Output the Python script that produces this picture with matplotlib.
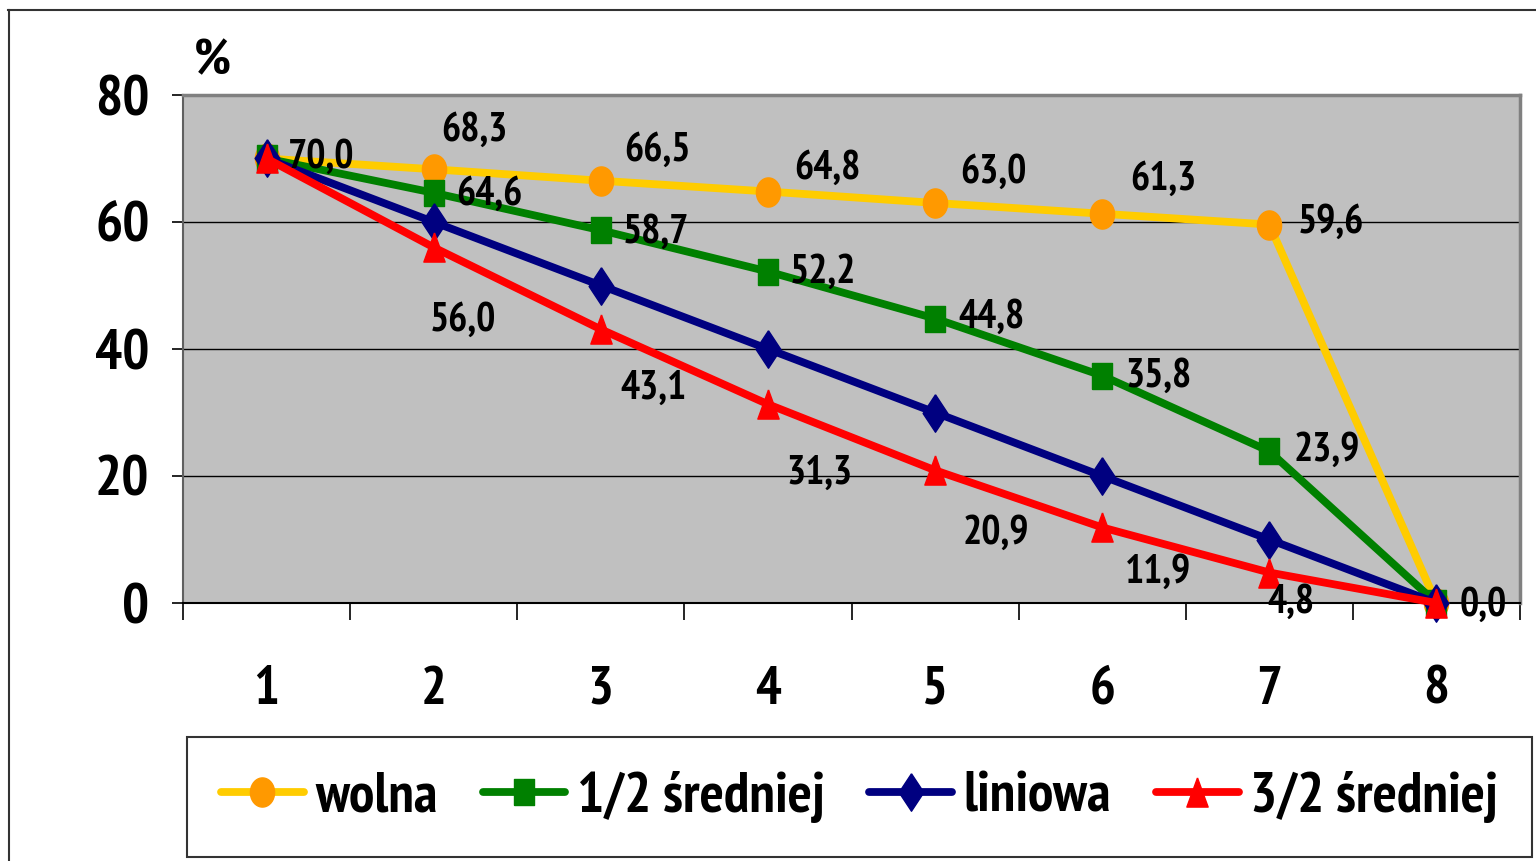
import matplotlib
matplotlib.use("Agg")
import matplotlib.pyplot as plt
from matplotlib.lines import Line2D
from matplotlib import font_manager
import numpy as np

# ---- data ----
categories = [1, 2, 3, 4, 5, 6, 7, 8]
series_names = ["wolna", "1/2 średniej", "liniowa", "3/2 średniej"]
wolna = [70.0, 68.3, 66.5, 64.8, 63.0, 61.3, 59.6, 0.0]
pol_sredniej = [70.0, 64.6, 58.7, 52.2, 44.8, 35.8, 23.9, 0.0]
liniowa = [70.0, 60.0, 50.0, 40.0, 30.0, 20.0, 10.0, 0.0]
trzy_pol_sredniej = [70.0, 56.0, 43.1, 31.3, 20.9, 11.9, 4.8, 0.0]
y_ticks = [0, 20, 40, 60, 80]

# which points carry value labels (by series)
labels_wolna = [True] * 8
labels_pol = [False, True, True, True, True, True, True, False]
labels_lin = [False] * 8
labels_trzy = [False, True, True, True, True, True, True, False]

# label offsets in pixels (dx, dy downward positive)
off_wolna = [(55, -1), (41, -39), (57, -30), (60, -23), (58, -31), (61, -34), (62, -2), (47, 2)]
off_pol = [(0, 0), (56, 2), (55, 2), (55, 1), (56, -1), (56, 1), (57, -1), (0, 0)]
off_lin = [(0, 0)] * 8
off_trzy = [(0, 0), (29, 73), (53, 59), (52, 69), (61, 63), (56, 45), (22, 30), (0, 0)]

bold_fams = {f.name for f in font_manager.fontManager.ttflist
             if (f.weight if isinstance(f.weight, int) else 700 if "bold" in str(f.weight) else 400) >= 700}
PREF = ["Arial Narrow", "Liberation Sans Narrow", "Archivo Narrow", "PT Sans Narrow",
        "Roboto Condensed", "Fira Sans Condensed", "Asap Condensed", "Sofia Sans Condensed",
        "Barlow Condensed", "IBM Plex Sans Condensed", "Encode Sans Condensed",
        "Liberation Sans", "DejaVu Sans"]
FAM = [f for f in PREF if f in bold_fams][:1] + ["DejaVu Sans"]
plt.rcParams["font.family"] = FAM
plt.rcParams["font.weight"] = "bold"

W, H = 1536, 861
fig = plt.figure(figsize=(W / 100, H / 100), dpi=100)
fig.patch.set_facecolor("white")

ax = fig.add_axes([183 / W, (H - 603) / H, (1520 - 183) / W, (603 - 95) / H])
ax.set_facecolor("#C0C0C0")

# stretched markers (the original chart is horizontally squeezed)
t = np.linspace(0, 2 * np.pi, 40)
ellipse = list(zip(np.cos(t) * 0.83, np.sin(t)))
narrow_sq = [(-0.75, -1), (0.75, -1), (0.75, 1), (-0.75, 1), (-0.75, -1)]
narrow_tri = [(0, 1.0), (-0.73, -1.0), (0.73, -1.0), (0, 1.0)]
narrow_dia = [(0, 1.0), (-0.66, 0), (0, -1.0), (0.66, 0), (0, 1.0)]

styles = [
    dict(color="#FFCC00", marker=ellipse, mfc="#FF9900", mec="#FF9900", ms=21),
    dict(color="#008000", marker=narrow_sq, mfc="#008000", mec="#008000", ms=19),
    dict(color="#000080", marker=narrow_dia, mfc="#000080", mec="#000080", ms=27),
    dict(color="#FF0000", marker=narrow_tri, mfc="#FF0000", mec="#FF0000", ms=21),
]
all_series = [wolna, pol_sredniej, liniowa, trzy_pol_sredniej]
all_labels = [labels_wolna, labels_pol, labels_lin, labels_trzy]
all_offs = [off_wolna, off_pol, off_lin, off_trzy]

for name, vals, st in zip(series_names, all_series, styles):
    ax.plot(categories, vals, lw=5.6, label=name, solid_capstyle="round",
            solid_joinstyle="round", clip_on=False, zorder=3, **st)

for vals, flags, offs in zip(all_series, all_labels, all_offs):
    for x, v, f, (dx, dy) in zip(categories, vals, flags, offs):
        if f:
            ax.annotate(f"{v:.1f}".replace(".", ","), xy=(x, v),
                        xytext=(dx * 0.72, -dy * 0.72), textcoords="offset points",
                        ha="center", va="center", fontsize=29, fontweight="bold",
                        color="black", zorder=5, annotation_clip=False)

ax.set_xlim(0.5, 8.5)
ax.set_ylim(0, 80)
ax.set_yticks(y_ticks)
ax.set_yticklabels([str(v) for v in y_ticks])
ax.set_xticks(categories)
ax.set_xticklabels([str(c) for c in categories])
ax.set_xticks(np.arange(0.5, 9.0, 1.0), minor=True)

ax.tick_params(axis="y", which="major", direction="out", length=8, width=1.2,
               color="black", labelsize=41, pad=16)
ax.tick_params(axis="x", which="major", length=0, labelsize=39, pad=45)
ax.tick_params(axis="x", which="minor", direction="out", length=12, width=1.2,
               color="black")
for lab in ax.get_xticklabels() + ax.get_yticklabels():
    lab.set_fontweight("bold")

ax.yaxis.grid(True, color="black", lw=1.0)
ax.set_axisbelow(True)
for s in ["top", "right"]:
    ax.spines[s].set_color("#808080")
    ax.spines[s].set_linewidth(2.5)
ax.spines["left"].set_color("#606060")
ax.spines["left"].set_linewidth(1.5)
ax.spines["bottom"].set_color("black")
ax.spines["bottom"].set_linewidth(1.5)

fig.text(212 / W, 1 - 62 / H, "%", ha="center", va="center", fontsize=37,
         fontweight="bold")

leg = fig.legend(loc="lower left", bbox_to_anchor=(187 / W, 4 / H, 1345 / W, 122 / H),
                 mode="expand", ncol=4, frameon=True, fancybox=False,
                 edgecolor="black", handlelength=1.45,
                 handletextpad=0.2, borderaxespad=0, borderpad=0.6,
                 columnspacing=1.0, prop=dict(weight="bold", size=41))
leg.get_frame().set_linewidth(1.5)

# outer frame lines
fig.add_artist(Line2D([8 / W, 1.0], [1 - 10 / H, 1 - 10 / H], color="#333333", lw=1.5,
                      transform=fig.transFigure))
fig.add_artist(Line2D([9 / W, 9 / W], [1 - 10 / H, 0], color="#333333", lw=1.5,
                      transform=fig.transFigure))

fig.savefig("out.png", dpi=100)
